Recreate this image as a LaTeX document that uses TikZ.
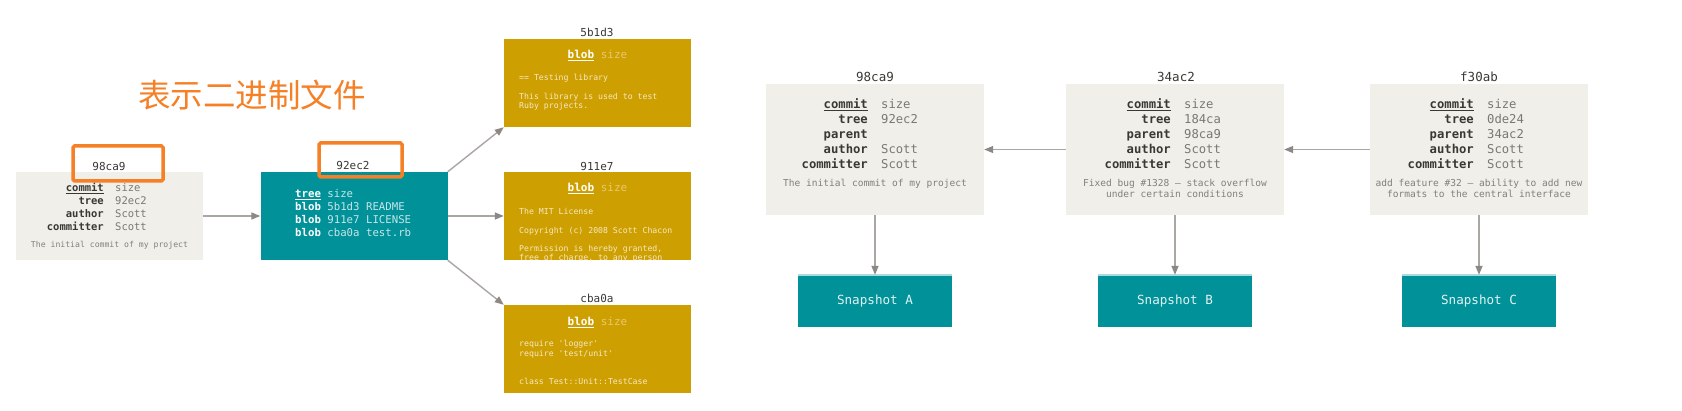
\documentclass[tikz,border=0pt]{standalone}
\usepackage{fontspec}
\setmonofont{DejaVu Sans Mono}
\newfontfamily\cjk{Noto Sans CJK SC}
\usetikzlibrary{arrows.meta}

\definecolor{cmtfill}{RGB}{240,239,233}
\definecolor{gitteal}{RGB}{0,145,153}
\definecolor{gitgold}{RGB}{206,159,0}
\definecolor{keyc}{RGB}{58,56,52}
\definecolor{valc}{RGB}{122,120,115}
\definecolor{msgc}{RGB}{130,128,122}
\definecolor{arrc}{RGB}{170,166,162}
\definecolor{tipc}{RGB}{140,136,132}
\definecolor{hilite}{RGB}{245,128,38}
\definecolor{tealval}{RGB}{200,230,232}
\definecolor{snapc}{RGB}{228,242,242}
\definecolor{snaptop}{RGB}{170,220,222}
\definecolor{goldtxt}{RGB}{245,233,196}
\definecolor{goldval}{RGB}{232,200,110}

\newcommand{\setfs}[2]{\fontsize{#1}{#2}\selectfont}
\newcommand{\tkey}[1]{\textcolor{white}{\textbf{#1}}}

\begin{document}
\begin{tikzpicture}[x=1pt, y=-1pt,
    box/.style={rectangle, inner sep=0pt, minimum width=187pt, minimum height=88pt},
    cmt/.style={box, fill=cmtfill},
    bigcmt/.style={cmt, minimum width=218pt, minimum height=131pt},
    treebox/.style={box, fill=gitteal},
    blobbox/.style={box, fill=gitgold},
    snap/.style={rectangle, inner sep=0pt, fill=gitteal, minimum width=154pt,
      minimum height=52pt, text=snapc, font=\ttfamily\setfs{12.6}{15}},
    lbl/.style={inner sep=0pt, text=keyc, font=\ttfamily\setfs{11}{13}},
    biglbl/.style={lbl, font=\ttfamily\setfs{12.5}{15}},
    txt/.style={inner sep=0pt, font=\ttfamily},
    arr/.style={draw=arrc, line width=1.4pt, -{Triangle[length=9pt,width=7pt,color=tipc]}},
    mark box/.style={draw=hilite, line width=3.5pt, rounded corners=1.5pt}]
  \path[use as bounding box, fill=white] (0,0) rectangle (1682,411);

  % object model: commit -> tree -> blobs
  \node[cmt] (c0) at (109.5,216) {};
  \node[treebox] (t0) at (354,216) {};
  \node[blobbox] (b1) at (597.5,83) {};
  \node[blobbox] (b2) at (597.5,216) {};
  \node[blobbox] (b3) at (597.5,349) {};

  \node[lbl] (c0l) at (109,166) {98ca9};
  \node[lbl] (t0l) at (353,165) {92ec2};
  \node[lbl] (b1l) at (597,32) {5b1d3};
  \node[lbl] (b2l) at (597,166) {911e7};
  \node[lbl] (b3l) at (597,298) {cba0a};

  \node[txt, anchor=base east, text=keyc, font=\ttfamily\bfseries\setfs{10.5}{12.9}] (c0k) at (104,191.8)
    {\begin{tabular}[t]{@{}r@{}}\underline{commit}\\tree\\author\\committer\end{tabular}};
  \node[txt, anchor=base west, text=valc, font=\ttfamily\setfs{10.5}{12.9}] (c0v) at (115,191.8)
    {\begin{tabular}[t]{@{}l@{}}size\\92ec2\\Scott\\Scott\end{tabular}};
  \node[txt, text=msgc, font=\ttfamily\setfs{8.15}{10}] (c0m) at (109.5,245)
    {The initial commit of my project};

  \node[txt, anchor=base west, text=tealval, font=\ttfamily\setfs{10.7}{12.9}] (t0t) at (295,198)
    {\begin{tabular}[t]{@{}l@{}}\tkey{\underline{tree}} size\\
      \tkey{blob} 5b1d3 README\\\tkey{blob} 911e7 LICENSE\\\tkey{blob} cba0a test.rb\end{tabular}};

  \node[txt, anchor=base, text=goldval, font=\ttfamily\setfs{11}{13}] (b1h) at (597.5,59)
    {\tkey{\underline{blob}} size};
  \node[txt, anchor=base west, text=goldtxt, font=\ttfamily\setfs{8.2}{9.3}] (b1t) at (519,81)
    {\begin{tabular}[t]{@{}l@{}}== Testing library\\ \\This library is used to test\\Ruby projects.\end{tabular}};

  \node[txt, anchor=base, text=goldval, font=\ttfamily\setfs{11}{13}] (b2h) at (597.5,192)
    {\tkey{\underline{blob}} size};
  \begin{scope}
    \clip (b2.south west) rectangle (b2.north east);
    \node[txt, anchor=base west, text=goldtxt, font=\ttfamily\setfs{8.2}{9.1}] (b2t) at (519,215)
      {\begin{tabular}[t]{@{}l@{}}The MIT License\\ \\Copyright (c) 2008 Scott Chacon\\ \\
        Permission is hereby granted,\\free of charge, to any person\end{tabular}};
  \end{scope}

  \node[txt, anchor=base, text=goldval, font=\ttfamily\setfs{11}{13}] (b3h) at (597.5,326)
    {\tkey{\underline{blob}} size};
  \node[txt, anchor=base west, text=goldtxt, font=\ttfamily\setfs{8.2}{9.3}] (b3t) at (519,347)
    {\begin{tabular}[t]{@{}l@{}}require 'logger'\\require 'test/unit'\\ \\ \\class Test::Unit::TestCase\end{tabular}};

  \draw[mark box] (73,146) rectangle (163,181);
  \draw[mark box] (319,143) rectangle (402,177);
  \node[inner sep=0pt, text=hilite, font=\cjk\setfs{32.5}{33}] (note) at (252,95) {表示二进制文件};

  \draw[arr] (c0) -- (t0);
  \draw[arr] (t0.north east) -- (b1.south west);
  \draw[arr] (t0) -- (b2);
  \draw[arr] (t0.south east) -- (b3.north west);

  % history: three commits, each pointing to a snapshot
  \node[bigcmt] (c1) at (875,149.5) {};
  \node[bigcmt] (c2) at (1175,149.5) {};
  \node[bigcmt] (c3) at (1479,149.5) {};
  \node[biglbl] (c1l) at (875,77) {98ca9};
  \node[biglbl] (c2l) at (1176,77) {34ac2};
  \node[biglbl] (c3l) at (1479,77) {f30ab};

  \node[txt, anchor=base east, text=keyc, font=\ttfamily\bfseries\setfs{12.2}{15}] (c1k) at (868,108.5)
    {\begin{tabular}[t]{@{}r@{}}\underline{commit}\\tree\\parent\\author\\committer\end{tabular}};
  \node[txt, anchor=base west, text=valc, font=\ttfamily\setfs{12.2}{15}] (c1v) at (881,108.5)
    {\begin{tabular}[t]{@{}l@{}}size\\92ec2\\ \\Scott\\Scott\end{tabular}};
  \node[txt, anchor=base, text=msgc, font=\ttfamily\setfs{9.55}{11}] (c1m) at (875,186.5)
    {The initial commit of my project};

  \node[txt, anchor=base east, text=keyc, font=\ttfamily\bfseries\setfs{12.2}{15}] (c2k) at (1171,108.5)
    {\begin{tabular}[t]{@{}r@{}}\underline{commit}\\tree\\parent\\author\\committer\end{tabular}};
  \node[txt, anchor=base west, text=valc, font=\ttfamily\setfs{12.2}{15}] (c2v) at (1184,108.5)
    {\begin{tabular}[t]{@{}l@{}}size\\184ca\\98ca9\\Scott\\Scott\end{tabular}};
  \node[txt, anchor=base, text=msgc, font=\ttfamily\setfs{9.55}{11}] (c2m) at (1175,186.5)
    {\begin{tabular}[t]{@{}c@{}}Fixed bug \#1328 – stack overflow\\under certain conditions\end{tabular}};

  \node[txt, anchor=base east, text=keyc, font=\ttfamily\bfseries\setfs{12.2}{15}] (c3k) at (1474,108.5)
    {\begin{tabular}[t]{@{}r@{}}\underline{commit}\\tree\\parent\\author\\committer\end{tabular}};
  \node[txt, anchor=base west, text=valc, font=\ttfamily\setfs{12.2}{15}] (c3v) at (1487,108.5)
    {\begin{tabular}[t]{@{}l@{}}size\\0de24\\34ac2\\Scott\\Scott\end{tabular}};
  \node[txt, anchor=base, text=msgc, font=\ttfamily\setfs{9.55}{11}] (c3m) at (1479,186.5)
    {\begin{tabular}[t]{@{}c@{}}add feature \#32 – ability to add new\\formats to the central interface\end{tabular}};

  \node[snap] (s1) at (875,301) {Snapshot A};
  \node[snap] (s2) at (1175,301) {Snapshot B};
  \node[snap] (s3) at (1479,301) {Snapshot C};
  \draw[snaptop, line width=1.5pt] (s1.north west) -- (s1.north east);
  \draw[snaptop, line width=1.5pt] (s2.north west) -- (s2.north east);
  \draw[snaptop, line width=1.5pt] (s3.north west) -- (s3.north east);

  \draw[arr] (c2) -- (c1);
  \draw[arr] (c3) -- (c2);
  \draw[arr] (c1) -- (s1);
  \draw[arr] (c2) -- (s2);
  \draw[arr] (c3) -- (s3);
\end{tikzpicture}
\end{document}
